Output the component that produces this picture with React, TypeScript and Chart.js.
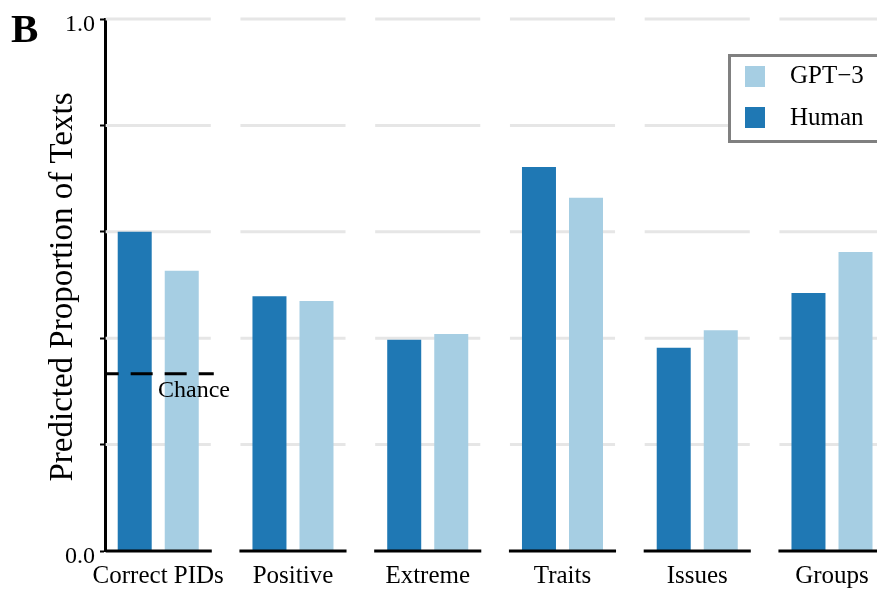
import React, { useEffect, useRef } from 'react';
import { Chart, registerables } from 'chart.js';

Chart.register(...registerables);

// ---- data ----
const categories = ['Correct PIDs', 'Positive', 'Extreme', 'Traits', 'Issues', 'Groups'];
const humanValues = [0.6, 0.479, 0.397, 0.722, 0.382, 0.485];
const gpt3Values = [0.527, 0.47, 0.408, 0.664, 0.415, 0.562];
const seriesNames = ['Human', 'GPT\u22123'];
const yTickValues = [0, 0.2, 0.4, 0.6, 0.8, 1.0];
const yTickLabels = ['0.0', '', '', '', '', '1.0'];
const chanceLevel = 1 / 3;
const chanceLabel = 'Chance';
const yTitle = 'Predicted Proportion of Texts';
const panelLetter = 'B';

// ---- styling ----
const HUMAN_COLOR = '#1f78b4';
const GPT_COLOR = '#a6cee3';
const GRID_COLOR = '#e6e6e6';
const SERIF = '"Liberation Serif", "Times New Roman", Times, serif';
const W = 877;
const H = 589;
const SEG_HALF = 0.39; // half-width of each category's axis/grid segment, in category units

function segment(xs: any, ca: any, i: number): [number, number] {
  const l = Math.max(ca.left, xs.getPixelForValue(i - SEG_HALF));
  const r = Math.min(ca.right, xs.getPixelForValue(i + SEG_HALF));
  return [l, r];
}

const decorPlugin = {
  id: 'panelDecor',
  beforeDatasetsDraw(chart: any) {
    const { ctx, chartArea: ca, scales } = chart;
    const xs = scales.x;
    const ys = scales.y;
    ctx.save();
    ctx.strokeStyle = GRID_COLOR;
    ctx.lineWidth = 3;
    yTickValues.forEach((v) => {
      if (v === 0) return;
      const py = ys.getPixelForValue(v);
      categories.forEach((_, i) => {
        const [l, r] = segment(xs, ca, i);
        ctx.beginPath();
        ctx.moveTo(l, py);
        ctx.lineTo(r, py);
        ctx.stroke();
      });
    });
    ctx.restore();
  },
  afterDatasetsDraw(chart: any) {
    const { ctx, chartArea: ca, scales } = chart;
    const xs = scales.x;
    const ys = scales.y;
    ctx.save();

    // broken x-axis: one black segment under each category
    const y0 = ys.getPixelForValue(0);
    ctx.strokeStyle = '#000';
    ctx.lineWidth = 3;
    categories.forEach((_, i) => {
      const [l, r] = segment(xs, ca, i);
      ctx.beginPath();
      ctx.moveTo(i === 0 ? l : l - 1, y0);
      ctx.lineTo(r + 1, y0);
      ctx.stroke();
    });

    // chance reference line in the first category
    const yc = ys.getPixelForValue(chanceLevel);
    const [cl, cr] = segment(xs, ca, 0);
    ctx.setLineDash([22, 12]);
    ctx.lineDashOffset = 9;
    ctx.beginPath();
    ctx.moveTo(cl, yc);
    ctx.lineTo(cr + 3, yc);
    ctx.stroke();
    ctx.setLineDash([]);

    ctx.fillStyle = '#000';
    ctx.textBaseline = 'alphabetic';
    ctx.font = `24px ${SERIF}`;
    ctx.textAlign = 'left';
    ctx.fillText(chanceLabel, 158, yc + 23);

    // category labels
    ctx.font = `25px ${SERIF}`;
    ctx.textAlign = 'center';
    categories.forEach((c, i) => {
      ctx.fillText(c, xs.getPixelForValue(i), y0 + 32);
    });

    // y tick labels
    ctx.font = `24px ${SERIF}`;
    ctx.textAlign = 'right';
    yTickValues.forEach((v, i) => {
      if (!yTickLabels[i]) return;
      ctx.fillText(yTickLabels[i], 95, ys.getPixelForValue(v) + 12);
    });

    // y title
    ctx.save();
    ctx.translate(72, (ca.top + ca.bottom) / 2 + 2);
    ctx.rotate(-Math.PI / 2);
    ctx.font = `33px ${SERIF}`;
    ctx.textAlign = 'center';
    ctx.fillText(yTitle, 0, 0);
    ctx.restore();

    // panel letter
    ctx.font = `bold 41px ${SERIF}`;
    ctx.textAlign = 'left';
    ctx.fillText(panelLetter, 11, 42);

    // legend box (GPT-3 listed first)
    ctx.fillStyle = '#fff';
    ctx.fillRect(729, 55, 180, 86);
    ctx.strokeStyle = '#808080';
    ctx.lineWidth = 3;
    ctx.strokeRect(729.5, 55.5, 180, 86);
    const items = [
      { name: seriesNames[1], color: GPT_COLOR, top: 66, base: 83 },
      { name: seriesNames[0], color: HUMAN_COLOR, top: 107, base: 125 },
    ];
    ctx.font = `25px ${SERIF}`;
    items.forEach((it) => {
      ctx.fillStyle = it.color;
      ctx.fillRect(745, it.top, 20, 21);
      ctx.fillStyle = '#000';
      ctx.fillText(it.name, 790, it.base);
    });

    ctx.restore();
  },
};

export default function App() {
  const canvasRef = useRef<HTMLCanvasElement | null>(null);

  useEffect(() => {
    const canvas = canvasRef.current;
    if (!canvas) return;
    const chart = new Chart(canvas, {
      type: 'bar',
      data: {
        datasets: [
          {
            label: seriesNames[0],
            data: categories.map((_, i) => ({ x: i, y: humanValues[i] })),
            backgroundColor: HUMAN_COLOR,
            borderWidth: 0,
          },
          {
            label: seriesNames[1],
            data: categories.map((_, i) => ({ x: i, y: gpt3Values[i] })),
            backgroundColor: GPT_COLOR,
            borderWidth: 0,
          },
        ],
      },
      options: {
        responsive: false,
        animation: false,
        events: [],
        devicePixelRatio: 1,
        layout: { padding: { left: 0, right: 0, top: 19, bottom: 38 } },
        datasets: {
          bar: { categoryPercentage: 0.698, barPercentage: 0.723 },
        },
        scales: {
          x: {
            type: 'linear',
            display: false,
            offset: false,
            min: -0.395,
            max: 5.334,
            afterBuildTicks: (scale: any) => {
              scale.ticks = categories.map((_, i) => ({ value: i }));
            },
          },
          y: {
            type: 'linear',
            position: 'left',
            min: 0,
            max: 1,
            afterBuildTicks: (scale: any) => {
              scale.ticks = yTickValues.map((v) => ({ value: v }));
            },
            afterFit: (scale: any) => {
              scale.width = 105;
            },
            ticks: { display: false },
            grid: {
              display: true,
              drawOnChartArea: false,
              drawTicks: true,
              tickLength: 5,
              tickWidth: 2,
              tickColor: '#000',
            },
            border: { display: true, color: '#000', width: 3 },
          },
        },
        plugins: {
          legend: { display: false },
          tooltip: { enabled: false },
        },
      },
      plugins: [decorPlugin],
    } as any);
    return () => chart.destroy();
  }, []);

  return (
    <div style={{ position: 'absolute', left: 0, top: 0, width: W, height: H, background: '#fff', overflow: 'hidden' }}>
      <canvas ref={canvasRef} width={W} height={H} style={{ display: 'block' }} />
    </div>
  );
}
